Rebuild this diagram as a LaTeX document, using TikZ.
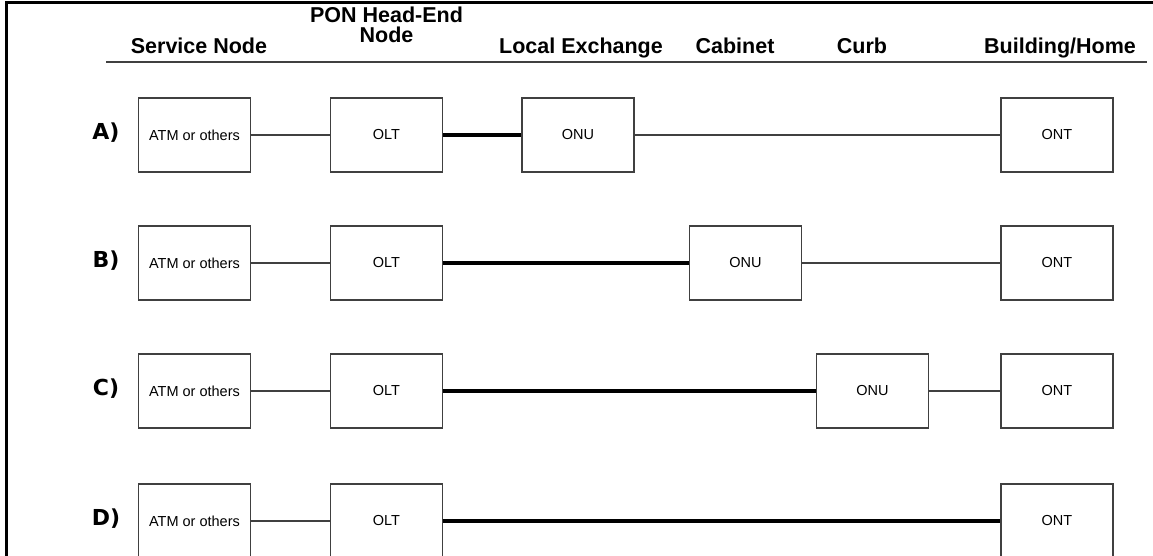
\documentclass[tikz,border=0pt]{standalone}
\usepackage{fontspec}
\setmainfont{Liberation Sans}
\newfontfamily\labelfont{DejaVu Sans}
\usepackage{tikz}

\definecolor{boxgray}{RGB}{64,64,64}
\tikzset{
  unitbox/.style={draw=boxgray, line width=1.2pt, minimum width=112pt, minimum height=74pt, inner sep=0pt, font=\fontsize{14.5}{15}\selectfont},
  headtxt/.style={anchor=base, font=\fontsize{21.5}{22}\selectfont\bfseries},
  rowtxt/.style={font=\labelfont\fontsize{22}{23}\selectfont\bfseries},
  thinlink/.style={draw=boxgray, line width=1.2pt},
  fiber/.style={draw=black, line width=4.5pt}
}

\begin{document}
\begin{tikzpicture}[x=1pt, y=-1pt]
        \useasboundingbox (0,0) rectangle (1153,556);

        % Frame
        \draw[line width=3pt] (6,560) -- (6,3) -- (1160,3);

        % Column headings
        \node[headtxt] (hsn) at (199,54) {Service Node};
        \node[headtxt] (hpon) at (386.5,23) {PON Head-End};
        \node[headtxt] (hpon2) at (386.5,43) {Node};
        \node[headtxt] (hle) at (581,54) {Local Exchange};
        \node[headtxt] (hcab) at (735,54) {Cabinet};
        \node[headtxt] (hcurb) at (862,54) {Curb};
        \node[headtxt] (hbh) at (1060,54) {Building/Home};
        \draw[draw=boxgray, line width=1.5pt] (106,62) -- (1147,62);

        % Rows: service node, OLT and ONT
        \foreach \r/\y in {A/135, B/263, C/391, D/521} {
            \node[rowtxt] (lab\r) at (106,\y-2) {\r)};
            \node[unitbox] (atm\r) at (194.5,\y) {ATM or others};
            \node[unitbox] (olt\r) at (386.5,\y) {OLT};
            \node[unitbox] (ont\r) at (1057,\y) {ONT};
            \draw[thinlink] (atm\r) -- (olt\r);
        }

        % ONUs
        \node[unitbox] (onuA) at (578,135) {ONU};
        \node[unitbox] (onuB) at (745.5,263) {ONU};
        \node[unitbox] (onuC) at (872.5,391) {ONU};

        % Fibre and copper links
        \draw[fiber] (oltA) -- (onuA);
        \draw[thinlink] (onuA) -- (ontA);

        \draw[fiber] (oltB) -- (onuB);
        \draw[thinlink] (onuB) -- (ontB);

        \draw[fiber] (oltC) -- (onuC);
        \draw[thinlink] (onuC) -- (ontC);

        \draw[fiber] (oltD) -- (ontD);

\end{tikzpicture}
\end{document}
